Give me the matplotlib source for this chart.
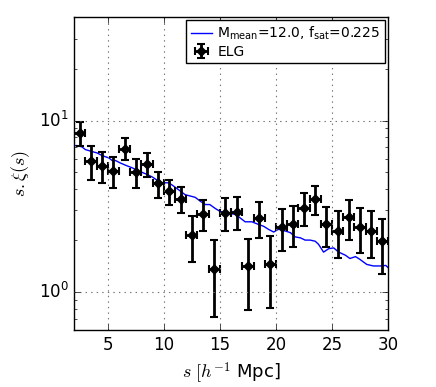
import numpy as np
import matplotlib
matplotlib.use('Agg')
import matplotlib.pyplot as plt

plt.style.use('classic')
plt.rcParams['mathtext.fontset'] = 'cm'
plt.rcParams['font.family'] = 'DejaVu Sans'

# ELG measurement
s_elg = [2.5, 3.5, 4.5, 5.5, 6.5, 7.5, 8.5, 9.5, 10.5, 11.5, 12.5, 13.5, 14.5, 15.5,
         16.5, 17.5, 18.5, 19.5, 20.5, 21.5, 22.5, 23.5, 24.5, 25.5, 26.5, 27.5, 28.5, 29.5]
xi_elg = [8.48, 5.79, 5.42, 5.07, 6.87, 5.00, 5.60, 4.30, 3.87, 3.50, 2.14, 2.86, 1.36, 2.90,
          2.94, 1.42, 2.71, 1.46, 2.39, 2.50, 3.10, 3.50, 2.48, 2.27, 2.73, 2.39, 2.27, 1.98]
err_elg = [1.40, 1.30, 1.10, 1.05, 1.00, 0.95, 0.90, 0.75, 0.65, 0.62, 0.65, 0.60, 0.64, 0.62,
           0.64, 0.63, 0.63, 0.65, 0.65, 0.66, 0.67, 0.68, 0.66, 0.70, 0.71, 0.70, 0.70, 0.70]
s_binw = 0.5

# HOD model
s_model = [2.0, 2.27, 2.7, 3.0, 3.6, 4.05, 4.5, 5.1, 5.4, 5.7, 6.1, 6.6, 7.2, 7.8, 8.4, 9.0,
           9.55, 9.85, 10.45, 10.9, 11.3, 11.9, 12.8, 13.25, 13.7, 14.1, 14.6, 15.0, 15.5,
           16.4, 16.8, 17.25, 17.85, 18.45, 18.9, 19.35, 19.8, 20.2, 20.4, 20.85, 21.3, 21.7,
           22.2, 22.6, 23.05, 23.5, 23.8, 24.25, 24.7, 25.15, 25.6, 26.2, 26.6, 27.1, 27.5,
           28.1, 28.7, 29.3, 29.8, 30.0]
xi_model = [7.15, 7.15, 7.03, 6.78, 6.60, 6.48, 6.25, 6.06, 5.85, 5.85, 5.67, 5.49, 5.30, 5.07,
            4.89, 4.68, 4.43, 4.34, 4.34, 4.14, 3.96, 3.70, 3.57, 3.39, 3.24, 3.24, 3.07, 2.96,
            2.90, 2.84, 2.71, 2.57, 2.57, 2.48, 2.42, 2.32, 2.24, 2.32, 2.32, 2.27, 2.22, 2.10,
            2.07, 2.01, 2.01, 1.98, 1.90, 1.71, 1.79, 1.81, 1.71, 1.64, 1.57, 1.61, 1.55, 1.45,
            1.42, 1.42, 1.43, 1.39]

fig = plt.figure(figsize=(4.36, 3.87), dpi=100, facecolor='white')
ax = fig.add_axes([0.170, 0.147, 0.720, 0.808])

ax.plot(s_model, xi_model, 'b-', lw=1, label=r'$\mathregular{M_{mean}}$=12.0, $\mathregular{f_{sat}}$=0.225')
ax.errorbar(s_elg, xi_elg, yerr=err_elg, xerr=s_binw, fmt='kD', ms=5, elinewidth=2,
            capsize=3, capthick=1.5, ecolor='k', label='ELG')

ax.set_yscale('log')
ax.set_xlim(2, 30)
ax.set_ylim(0.6, 40)
ax.set_xticks([5, 10, 15, 20, 25, 30])
ax.grid(True, color='0.45', linestyle=':', linewidth=0.8)
ax.tick_params(labelsize=12)
ax.set_xlabel(r'$s\ [h^{-1}$ Mpc]', fontsize=13)
ax.set_ylabel(r'$s.\xi(s)$', fontsize=13)
ax.legend(loc='upper right', fontsize=10, numpoints=1, borderaxespad=0.2,
          handlelength=1.5, handletextpad=0.4, borderpad=0.35, labelspacing=0.15)

fig.savefig('out.png', dpi=100, facecolor='white')
